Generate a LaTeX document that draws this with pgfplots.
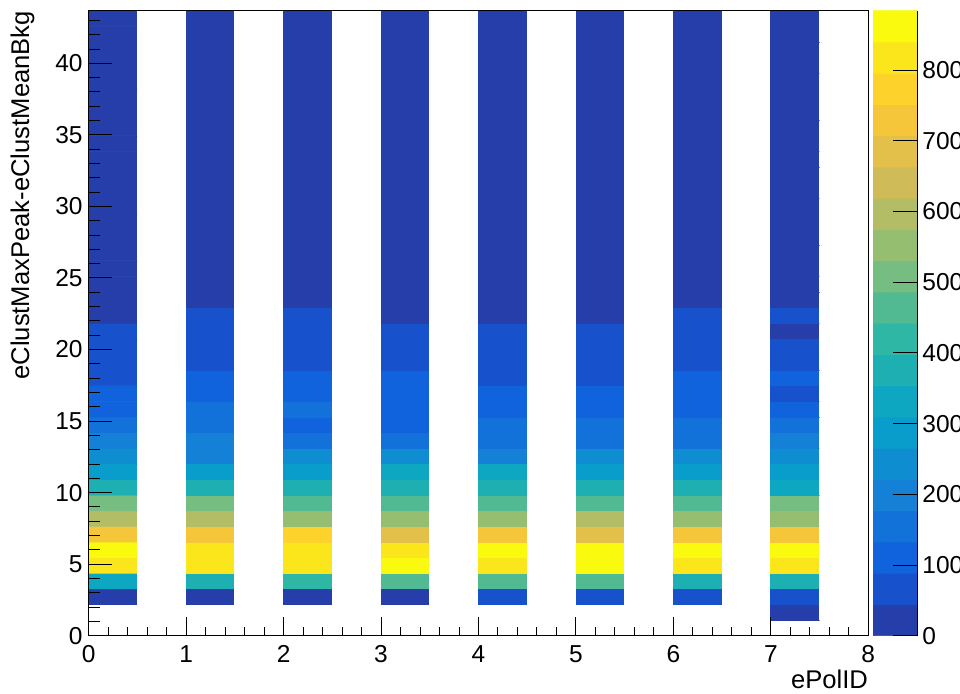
\documentclass[border=0pt]{standalone}
\usepackage{fontspec}
\setmainfont{Liberation Sans}
\usepackage{pgfplots}
\usepackage{pgfplotstable}
\pgfplotsset{compat=1.18}

\newcommand\lblfont{\fontsize{12.25}{14.7}\selectfont}
\newcommand\ttlfont{\fontsize{12.8}{15.4}\selectfont}

% Bird palette cut into 20 contour levels; white first for empty bins (level -1)
\pgfplotsset{
  colormap={birdlevels}{
    rgb255=(255,255,255)
    rgb255=(38,62,169)
    rgb255=(23,82,204)
    rgb255=(16,99,220)
    rgb255=(18,114,217)
    rgb255=(20,128,214)
    rgb255=(14,142,209)
    rgb255=(9,157,204)
    rgb255=(14,167,194)
    rgb255=(30,175,179)
    rgb255=(46,183,164)
    rgb255=(81,186,146)
    rgb255=(117,189,128)
    rgb255=(150,190,113)
    rgb255=(179,189,101)
    rgb255=(208,187,89)
    rgb255=(227,192,74)
    rgb255=(245,198,58)
    rgb255=(253,210,43)
    rgb255=(251,230,28)
    rgb255=(249,250,14)
  },
  /pgf/number format/assume math mode=true,
}

% 2D histogram: bin centres (x = ePolID, y = eClustMaxPeak-eClustMeanBkg) and bin contents
\pgfplotstableread[row sep=\\]{
x y c \\
0.25 1.638 0 \\ 0.75 1.638 0 \\ 1.25 1.638 0 \\ 1.75 1.638 0 \\ 2.25 1.638 0 \\ 2.75 1.638 0 \\ 3.25 1.638 0 \\ 3.75 1.638 0 \\ 4.25 1.638 0 \\ 4.75 1.638 0 \\ 5.25 1.638 0 \\ 5.75 1.638 0 \\ 6.25 1.638 0 \\ 6.75 1.638 0 \\ 7.25 1.638 18 \\ 7.75 1.638 0 \\
0.25 2.730 30 \\ 0.75 2.730 0 \\ 1.25 2.730 28 \\ 1.75 2.730 0 \\ 2.25 2.730 34 \\ 2.75 2.730 0 \\ 3.25 2.730 25 \\ 3.75 2.730 0 \\ 4.25 2.730 60 \\ 4.75 2.730 0 \\ 5.25 2.730 58 \\ 5.75 2.730 0 \\ 6.25 2.730 64 \\ 6.75 2.730 0 \\ 7.25 2.730 70 \\ 7.75 2.730 0 \\
0.25 3.822 330 \\ 0.75 3.822 0 \\ 1.25 3.822 372 \\ 1.75 3.822 0 \\ 2.25 3.822 418 \\ 2.75 3.822 0 \\ 3.25 3.822 470 \\ 3.75 3.822 0 \\ 4.25 3.822 465 \\ 4.75 3.822 0 \\ 5.25 3.822 472 \\ 5.75 3.822 0 \\ 6.25 3.822 380 \\ 6.75 3.822 0 \\ 7.25 3.822 368 \\ 7.75 3.822 0 \\
0.25 4.914 815 \\ 0.75 4.914 0 \\ 1.25 4.914 820 \\ 1.75 4.914 0 \\ 2.25 4.914 812 \\ 2.75 4.914 0 \\ 3.25 4.914 868 \\ 3.75 4.914 0 \\ 4.25 4.914 818 \\ 4.75 4.914 0 \\ 5.25 4.914 870 \\ 5.75 4.914 0 \\ 6.25 4.914 822 \\ 6.75 4.914 0 \\ 7.25 4.914 816 \\ 7.75 4.914 0 \\
0.25 6.006 875 \\ 0.75 6.006 0 \\ 1.25 6.006 830 \\ 1.75 6.006 0 \\ 2.25 6.006 826 \\ 2.75 6.006 0 \\ 3.25 6.006 829 \\ 3.75 6.006 0 \\ 4.25 6.006 872 \\ 4.75 6.006 0 \\ 5.25 6.006 878 \\ 5.75 6.006 0 \\ 6.25 6.006 866 \\ 6.75 6.006 0 \\ 7.25 6.006 864 \\ 7.75 6.006 0 \\
0.25 7.098 730 \\ 0.75 7.098 0 \\ 1.25 7.098 735 \\ 1.75 7.098 0 \\ 2.25 7.098 770 \\ 2.75 7.098 0 \\ 3.25 7.098 690 \\ 3.75 7.098 0 \\ 4.25 7.098 728 \\ 4.75 7.098 0 \\ 5.25 7.098 684 \\ 5.75 7.098 0 \\ 6.25 7.098 733 \\ 6.75 7.098 0 \\ 7.25 7.098 726 \\ 7.75 7.098 0 \\
0.25 8.190 598 \\ 0.75 8.190 0 \\ 1.25 8.190 596 \\ 1.75 8.190 0 \\ 2.25 8.190 551 \\ 2.75 8.190 0 \\ 3.25 8.190 556 \\ 3.75 8.190 0 \\ 4.25 8.190 548 \\ 4.75 8.190 0 \\ 5.25 8.190 602 \\ 5.75 8.190 0 \\ 6.25 8.190 552 \\ 6.75 8.190 0 \\ 7.25 8.190 549 \\ 7.75 8.190 0 \\
0.25 9.282 510 \\ 0.75 9.282 0 \\ 1.25 9.282 506 \\ 1.75 9.282 0 \\ 2.25 9.282 468 \\ 2.75 9.282 0 \\ 3.25 9.282 462 \\ 3.75 9.282 0 \\ 4.25 9.282 470 \\ 4.75 9.282 0 \\ 5.25 9.282 466 \\ 5.75 9.282 0 \\ 6.25 9.282 460 \\ 6.75 9.282 0 \\ 7.25 9.282 512 \\ 7.75 9.282 0 \\
0.25 10.374 378 \\ 0.75 10.374 0 \\ 1.25 10.374 372 \\ 1.75 10.374 0 \\ 2.25 10.374 380 \\ 2.75 10.374 0 \\ 3.25 10.374 375 \\ 3.75 10.374 0 \\ 4.25 10.374 377 \\ 4.75 10.374 0 \\ 5.25 10.374 379 \\ 5.75 10.374 0 \\ 6.25 10.374 373 \\ 6.75 10.374 0 \\ 7.25 10.374 335 \\ 7.75 10.374 0 \\
0.25 11.466 290 \\ 0.75 11.466 0 \\ 1.25 11.466 288 \\ 1.75 11.466 0 \\ 2.25 11.466 286 \\ 2.75 11.466 0 \\ 3.25 11.466 328 \\ 3.75 11.466 0 \\ 4.25 11.466 325 \\ 4.75 11.466 0 \\ 5.25 11.466 292 \\ 5.75 11.466 0 \\ 6.25 11.466 289 \\ 6.75 11.466 0 \\ 7.25 11.466 284 \\ 7.75 11.466 0 \\
0.25 12.558 245 \\ 0.75 12.558 0 \\ 1.25 12.558 205 \\ 1.75 12.558 0 \\ 2.25 12.558 240 \\ 2.75 12.558 0 \\ 3.25 12.558 246 \\ 3.75 12.558 0 \\ 4.25 12.558 210 \\ 4.75 12.558 0 \\ 5.25 12.558 244 \\ 5.75 12.558 0 \\ 6.25 12.558 242 \\ 6.75 12.558 0 \\ 7.25 12.558 238 \\ 7.75 12.558 0 \\
0.25 13.650 200 \\ 0.75 13.650 0 \\ 1.25 13.650 198 \\ 1.75 13.650 0 \\ 2.25 13.650 160 \\ 2.75 13.650 0 \\ 3.25 13.650 158 \\ 3.75 13.650 0 \\ 4.25 13.650 152 \\ 4.75 13.650 0 \\ 5.25 13.650 156 \\ 5.75 13.650 0 \\ 6.25 13.650 154 \\ 6.75 13.650 0 \\ 7.25 13.650 196 \\ 7.75 13.650 0 \\
0.25 14.742 150 \\ 0.75 14.742 0 \\ 1.25 14.742 148 \\ 1.75 14.742 0 \\ 2.25 14.742 118 \\ 2.75 14.742 0 \\ 3.25 14.742 115 \\ 3.75 14.742 0 \\ 4.25 14.742 145 \\ 4.75 14.742 0 \\ 5.25 14.742 142 \\ 5.75 14.742 0 \\ 6.25 14.742 147 \\ 6.75 14.742 0 \\ 7.25 14.742 140 \\ 7.75 14.742 0 \\
0.25 15.834 112 \\ 0.75 15.834 0 \\ 1.25 15.834 138 \\ 1.75 15.834 0 \\ 2.25 15.834 136 \\ 2.75 15.834 0 \\ 3.25 15.834 110 \\ 3.75 15.834 0 \\ 4.25 15.834 108 \\ 4.75 15.834 0 \\ 5.25 15.834 112 \\ 5.75 15.834 0 \\ 6.25 15.834 106 \\ 6.75 15.834 0 \\ 7.25 15.834 104 \\ 7.75 15.834 0 \\
0.25 16.926 96 \\ 0.75 16.926 0 \\ 1.25 16.926 100 \\ 1.75 16.926 0 \\ 2.25 16.926 98 \\ 2.75 16.926 0 \\ 3.25 16.926 102 \\ 3.75 16.926 0 \\ 4.25 16.926 97 \\ 4.75 16.926 0 \\ 5.25 16.926 95 \\ 5.75 16.926 0 \\ 6.25 16.926 99 \\ 6.75 16.926 0 \\ 7.25 16.926 85 \\ 7.75 16.926 0 \\
0.25 18.018 80 \\ 0.75 18.018 0 \\ 1.25 18.018 92 \\ 1.75 18.018 0 \\ 2.25 18.018 91 \\ 2.75 18.018 0 \\ 3.25 18.018 93 \\ 3.75 18.018 0 \\ 4.25 18.018 82 \\ 4.75 18.018 0 \\ 5.25 18.018 80 \\ 5.75 18.018 0 \\ 6.25 18.018 90 \\ 6.75 18.018 0 \\ 7.25 18.018 90 \\ 7.75 18.018 0 \\
0.25 19.110 70 \\ 0.75 19.110 0 \\ 1.25 19.110 78 \\ 1.75 19.110 0 \\ 2.25 19.110 76 \\ 2.75 19.110 0 \\ 3.25 19.110 72 \\ 3.75 19.110 0 \\ 4.25 19.110 68 \\ 4.75 19.110 0 \\ 5.25 19.110 71 \\ 5.75 19.110 0 \\ 6.25 19.110 80 \\ 6.75 19.110 0 \\ 7.25 19.110 74 \\ 7.75 19.110 0 \\
0.25 20.202 60 \\ 0.75 20.202 0 \\ 1.25 20.202 66 \\ 1.75 20.202 0 \\ 2.25 20.202 64 \\ 2.75 20.202 0 \\ 3.25 20.202 58 \\ 3.75 20.202 0 \\ 4.25 20.202 56 \\ 4.75 20.202 0 \\ 5.25 20.202 62 \\ 5.75 20.202 0 \\ 6.25 20.202 68 \\ 6.75 20.202 0 \\ 7.25 20.202 62 \\ 7.75 20.202 0 \\
0.25 21.294 50 \\ 0.75 21.294 0 \\ 1.25 21.294 56 \\ 1.75 21.294 0 \\ 2.25 21.294 54 \\ 2.75 21.294 0 \\ 3.25 21.294 49 \\ 3.75 21.294 0 \\ 4.25 21.294 48 \\ 4.75 21.294 0 \\ 5.25 21.294 50 \\ 5.75 21.294 0 \\ 6.25 21.294 57 \\ 6.75 21.294 0 \\ 7.25 21.294 40 \\ 7.75 21.294 0 \\
0.25 22.386 38 \\ 0.75 22.386 0 \\ 1.25 22.386 47 \\ 1.75 22.386 0 \\ 2.25 22.386 46 \\ 2.75 22.386 0 \\ 3.25 22.386 40 \\ 3.75 22.386 0 \\ 4.25 22.386 39 \\ 4.75 22.386 0 \\ 5.25 22.386 41 \\ 5.75 22.386 0 \\ 6.25 22.386 48 \\ 6.75 22.386 0 \\ 7.25 22.386 46 \\ 7.75 22.386 0 \\
0.25 23.478 34 \\ 0.75 23.478 0 \\ 1.25 23.478 40 \\ 1.75 23.478 0 \\ 2.25 23.478 39 \\ 2.75 23.478 0 \\ 3.25 23.478 33 \\ 3.75 23.478 0 \\ 4.25 23.478 32 \\ 4.75 23.478 0 \\ 5.25 23.478 35 \\ 5.75 23.478 0 \\ 6.25 23.478 41 \\ 6.75 23.478 0 \\ 7.25 23.478 38 \\ 7.75 23.478 0 \\
0.25 24.570 30 \\ 0.75 24.570 0 \\ 1.25 24.570 35 \\ 1.75 24.570 0 \\ 2.25 24.570 33 \\ 2.75 24.570 0 \\ 3.25 24.570 29 \\ 3.75 24.570 0 \\ 4.25 24.570 28 \\ 4.75 24.570 0 \\ 5.25 24.570 31 \\ 5.75 24.570 0 \\ 6.25 24.570 36 \\ 6.75 24.570 0 \\ 7.25 24.570 34 \\ 7.75 24.570 0 \\
0.25 25.662 27 \\ 0.75 25.662 0 \\ 1.25 25.662 31 \\ 1.75 25.662 0 \\ 2.25 25.662 30 \\ 2.75 25.662 0 \\ 3.25 25.662 26 \\ 3.75 25.662 0 \\ 4.25 25.662 25 \\ 4.75 25.662 0 \\ 5.25 25.662 28 \\ 5.75 25.662 0 \\ 6.25 25.662 32 \\ 6.75 25.662 0 \\ 7.25 25.662 30 \\ 7.75 25.662 0 \\
0.25 26.754 24 \\ 0.75 26.754 0 \\ 1.25 26.754 28 \\ 1.75 26.754 0 \\ 2.25 26.754 27 \\ 2.75 26.754 0 \\ 3.25 26.754 23 \\ 3.75 26.754 0 \\ 4.25 26.754 22 \\ 4.75 26.754 0 \\ 5.25 26.754 25 \\ 5.75 26.754 0 \\ 6.25 26.754 29 \\ 6.75 26.754 0 \\ 7.25 26.754 27 \\ 7.75 26.754 0 \\
0.25 27.846 21 \\ 0.75 27.846 0 \\ 1.25 27.846 25 \\ 1.75 27.846 0 \\ 2.25 27.846 24 \\ 2.75 27.846 0 \\ 3.25 27.846 21 \\ 3.75 27.846 0 \\ 4.25 27.846 20 \\ 4.75 27.846 0 \\ 5.25 27.846 22 \\ 5.75 27.846 0 \\ 6.25 27.846 26 \\ 6.75 27.846 0 \\ 7.25 27.846 24 \\ 7.75 27.846 0 \\
0.25 28.938 19 \\ 0.75 28.938 0 \\ 1.25 28.938 22 \\ 1.75 28.938 0 \\ 2.25 28.938 21 \\ 2.75 28.938 0 \\ 3.25 28.938 18 \\ 3.75 28.938 0 \\ 4.25 28.938 18 \\ 4.75 28.938 0 \\ 5.25 28.938 20 \\ 5.75 28.938 0 \\ 6.25 28.938 23 \\ 6.75 28.938 0 \\ 7.25 28.938 21 \\ 7.75 28.938 0 \\
0.25 30.030 17 \\ 0.75 30.030 0 \\ 1.25 30.030 20 \\ 1.75 30.030 0 \\ 2.25 30.030 19 \\ 2.75 30.030 0 \\ 3.25 30.030 16 \\ 3.75 30.030 0 \\ 4.25 30.030 16 \\ 4.75 30.030 0 \\ 5.25 30.030 18 \\ 5.75 30.030 0 \\ 6.25 30.030 20 \\ 6.75 30.030 0 \\ 7.25 30.030 19 \\ 7.75 30.030 0 \\
0.25 31.122 15 \\ 0.75 31.122 0 \\ 1.25 31.122 18 \\ 1.75 31.122 0 \\ 2.25 31.122 17 \\ 2.75 31.122 0 \\ 3.25 31.122 14 \\ 3.75 31.122 0 \\ 4.25 31.122 14 \\ 4.75 31.122 0 \\ 5.25 31.122 16 \\ 5.75 31.122 0 \\ 6.25 31.122 18 \\ 6.75 31.122 0 \\ 7.25 31.122 17 \\ 7.75 31.122 0 \\
0.25 32.214 13 \\ 0.75 32.214 0 \\ 1.25 32.214 16 \\ 1.75 32.214 0 \\ 2.25 32.214 15 \\ 2.75 32.214 0 \\ 3.25 32.214 13 \\ 3.75 32.214 0 \\ 4.25 32.214 12 \\ 4.75 32.214 0 \\ 5.25 32.214 14 \\ 5.75 32.214 0 \\ 6.25 32.214 16 \\ 6.75 32.214 0 \\ 7.25 32.214 15 \\ 7.75 32.214 0 \\
0.25 33.306 12 \\ 0.75 33.306 0 \\ 1.25 33.306 14 \\ 1.75 33.306 0 \\ 2.25 33.306 13 \\ 2.75 33.306 0 \\ 3.25 33.306 11 \\ 3.75 33.306 0 \\ 4.25 33.306 11 \\ 4.75 33.306 0 \\ 5.25 33.306 12 \\ 5.75 33.306 0 \\ 6.25 33.306 14 \\ 6.75 33.306 0 \\ 7.25 33.306 13 \\ 7.75 33.306 0 \\
0.25 34.398 10 \\ 0.75 34.398 0 \\ 1.25 34.398 12 \\ 1.75 34.398 0 \\ 2.25 34.398 12 \\ 2.75 34.398 0 \\ 3.25 34.398 10 \\ 3.75 34.398 0 \\ 4.25 34.398 10 \\ 4.75 34.398 0 \\ 5.25 34.398 11 \\ 5.75 34.398 0 \\ 6.25 34.398 12 \\ 6.75 34.398 0 \\ 7.25 34.398 12 \\ 7.75 34.398 0 \\
0.25 35.490 9 \\ 0.75 35.490 0 \\ 1.25 35.490 11 \\ 1.75 35.490 0 \\ 2.25 35.490 10 \\ 2.75 35.490 0 \\ 3.25 35.490 9 \\ 3.75 35.490 0 \\ 4.25 35.490 9 \\ 4.75 35.490 0 \\ 5.25 35.490 10 \\ 5.75 35.490 0 \\ 6.25 35.490 11 \\ 6.75 35.490 0 \\ 7.25 35.490 10 \\ 7.75 35.490 0 \\
0.25 36.582 8 \\ 0.75 36.582 0 \\ 1.25 36.582 10 \\ 1.75 36.582 0 \\ 2.25 36.582 9 \\ 2.75 36.582 0 \\ 3.25 36.582 8 \\ 3.75 36.582 0 \\ 4.25 36.582 8 \\ 4.75 36.582 0 \\ 5.25 36.582 9 \\ 5.75 36.582 0 \\ 6.25 36.582 10 \\ 6.75 36.582 0 \\ 7.25 36.582 9 \\ 7.75 36.582 0 \\
0.25 37.674 7 \\ 0.75 37.674 0 \\ 1.25 37.674 9 \\ 1.75 37.674 0 \\ 2.25 37.674 8 \\ 2.75 37.674 0 \\ 3.25 37.674 7 \\ 3.75 37.674 0 \\ 4.25 37.674 7 \\ 4.75 37.674 0 \\ 5.25 37.674 8 \\ 5.75 37.674 0 \\ 6.25 37.674 9 \\ 6.75 37.674 0 \\ 7.25 37.674 8 \\ 7.75 37.674 0 \\
0.25 38.766 6 \\ 0.75 38.766 0 \\ 1.25 38.766 8 \\ 1.75 38.766 0 \\ 2.25 38.766 7 \\ 2.75 38.766 0 \\ 3.25 38.766 6 \\ 3.75 38.766 0 \\ 4.25 38.766 6 \\ 4.75 38.766 0 \\ 5.25 38.766 7 \\ 5.75 38.766 0 \\ 6.25 38.766 8 \\ 6.75 38.766 0 \\ 7.25 38.766 7 \\ 7.75 38.766 0 \\
0.25 39.858 6 \\ 0.75 39.858 0 \\ 1.25 39.858 7 \\ 1.75 39.858 0 \\ 2.25 39.858 6 \\ 2.75 39.858 0 \\ 3.25 39.858 5 \\ 3.75 39.858 0 \\ 4.25 39.858 5 \\ 4.75 39.858 0 \\ 5.25 39.858 6 \\ 5.75 39.858 0 \\ 6.25 39.858 7 \\ 6.75 39.858 0 \\ 7.25 39.858 6 \\ 7.75 39.858 0 \\
0.25 40.950 5 \\ 0.75 40.950 0 \\ 1.25 40.950 6 \\ 1.75 40.950 0 \\ 2.25 40.950 6 \\ 2.75 40.950 0 \\ 3.25 40.950 5 \\ 3.75 40.950 0 \\ 4.25 40.950 5 \\ 4.75 40.950 0 \\ 5.25 40.950 5 \\ 5.75 40.950 0 \\ 6.25 40.950 6 \\ 6.75 40.950 0 \\ 7.25 40.950 5 \\ 7.75 40.950 0 \\
0.25 42.042 4 \\ 0.75 42.042 0 \\ 1.25 42.042 5 \\ 1.75 42.042 0 \\ 2.25 42.042 5 \\ 2.75 42.042 0 \\ 3.25 42.042 4 \\ 3.75 42.042 0 \\ 4.25 42.042 4 \\ 4.75 42.042 0 \\ 5.25 42.042 5 \\ 5.75 42.042 0 \\ 6.25 42.042 5 \\ 6.75 42.042 0 \\ 7.25 42.042 5 \\ 7.75 42.042 0 \\
0.25 43.134 4 \\ 0.75 43.134 0 \\ 1.25 43.134 5 \\ 1.75 43.134 0 \\ 2.25 43.134 4 \\ 2.75 43.134 0 \\ 3.25 43.134 4 \\ 3.75 43.134 0 \\ 4.25 43.134 3 \\ 4.75 43.134 0 \\ 5.25 43.134 4 \\ 5.75 43.134 0 \\ 6.25 43.134 5 \\ 6.75 43.134 0 \\ 7.25 43.134 4 \\ 7.75 43.134 0 \\
}\histdata

% palette axis: one cell per contour level, 0 to 884 in steps of 44.2
\pgfplotstableread[row sep=\\]{
x y \\
0 22.1 \\ 1 22.1 \\ 0 66.3 \\ 1 66.3 \\ 0 110.5 \\ 1 110.5 \\ 0 154.7 \\ 1 154.7 \\
0 198.9 \\ 1 198.9 \\ 0 243.1 \\ 1 243.1 \\ 0 287.3 \\ 1 287.3 \\ 0 331.5 \\ 1 331.5 \\
0 375.7 \\ 1 375.7 \\ 0 419.9 \\ 1 419.9 \\ 0 464.1 \\ 1 464.1 \\ 0 508.3 \\ 1 508.3 \\
0 552.5 \\ 1 552.5 \\ 0 596.7 \\ 1 596.7 \\ 0 640.9 \\ 1 640.9 \\ 0 685.1 \\ 1 685.1 \\
0 729.3 \\ 1 729.3 \\ 0 773.5 \\ 1 773.5 \\ 0 817.7 \\ 1 817.7 \\ 0 861.9 \\ 1 861.9 \\
}\palettedata

\begin{document}
\begin{tikzpicture}
\useasboundingbox (0,0) rectangle (480pt,346.5pt);

\begin{axis}[
  at={(44.35pt,28.65pt)}, anchor=south west,
  scale only axis, width=389.8pt, height=312.5pt,
  xmin=0, xmax=8, ymin=0, ymax=43.68,
  axis on top,
  colormap name=birdlevels, point meta min=-1, point meta max=19,
  xtick={0,1,...,8}, ytick={0,5,...,40},
  minor xtick={0,0.2,...,8}, minor ytick={0,1,...,43},
  tick pos=left, tick align=inside,
  tick style={black, line width=0.5pt},
  xtick style={/pgfplots/major tick length=9.35pt, /pgfplots/minor tick length=4.5pt},
  ytick style={/pgfplots/major tick length=11.85pt, /pgfplots/minor tick length=5.85pt},
  axis line style={black, line width=0.5pt},
  tick label style={font=\lblfont},
  xticklabel style={anchor=north, inner sep=0pt, yshift=-4.65pt},
  yticklabel style={anchor=east, inner sep=0pt, xshift=-2.85pt},
  xlabel={ePolID},
  ylabel={eClustMaxPeak-eClustMeanBkg},
  every axis x label/.style={at={([yshift=-26.6pt]axis description cs:1,0)}, anchor=base east, font=\ttlfont, inner sep=0pt},
  every axis y label/.style={at={([xshift=-29.85pt]axis description cs:0,1)}, anchor=base east, rotate=90, font=\ttlfont, inner sep=0pt},
]
\addplot[matrix plot*, shader=flat corner, draw=none, mesh/cols=16,
  point meta={ifthenelse(\thisrow{c}>0, floor(\thisrow{c}/44.2), -1)}]
  table[x=x, y=y] {\histdata};
\end{axis}

\begin{axis}[
  at={(436.5pt,28.65pt)}, anchor=south west,
  scale only axis, width=22.15pt, height=312.5pt,
  xmin=-0.5, xmax=1.5, ymin=0, ymax=884,
  hide x axis, axis y line*=right,
  axis on top,
  colormap name=birdlevels, point meta min=-1, point meta max=19,
  ytick={0,100,...,800}, minor ytick={},
  ytick pos=right, yticklabel pos=right,
  tick align=inside, major tick length=12pt,
  tick style={black, line width=0.5pt},
  axis line style={black, line width=0.5pt},
  tick label style={font=\lblfont},
  yticklabel style={anchor=west, inner sep=0pt, xshift=2.35pt},
]
\addplot[matrix plot*, shader=flat corner, draw=none, mesh/cols=2,
  point meta={floor(\thisrow{y}/44.2)}]
  table[x=x, y=y] {\palettedata};
\end{axis}
\end{tikzpicture}
\end{document}
